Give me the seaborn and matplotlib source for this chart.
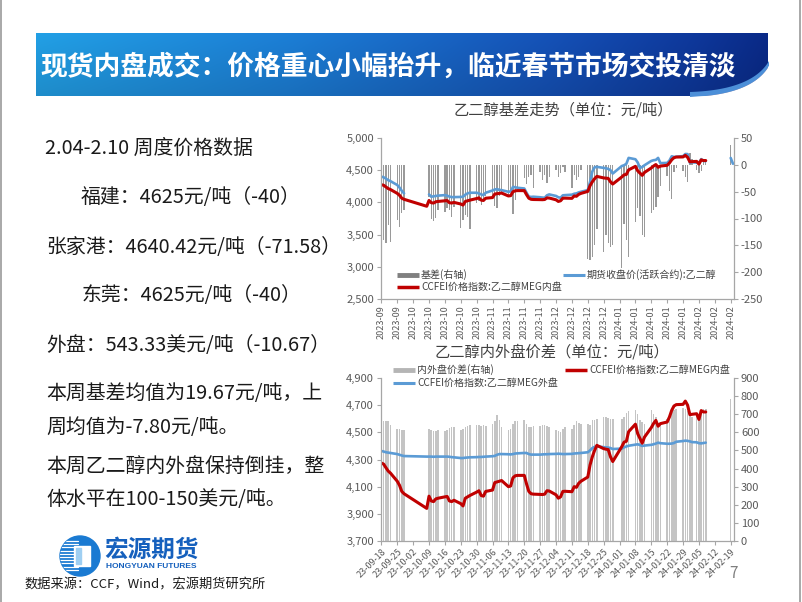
import numpy as np
import pandas as pd
import matplotlib
matplotlib.use('Agg')
import matplotlib.pyplot as plt
from matplotlib.ticker import FuncFormatter
from matplotlib.patches import Rectangle, Circle, Polygon
import seaborn as sns

nan = np.nan
# ---------------- data ----------------
holidays = ['2023-09-29', '2023-10-02', '2023-10-03', '2023-10-04', '2023-10-05',
            '2023-10-06', '2024-01-01']
extra_days = ['2023-10-08', '2024-02-04', '2024-02-19', '2024-02-20']
dates = sorted((set(pd.bdate_range('2023-09-18', '2024-02-08')) - set(pd.to_datetime(holidays)))
               | set(pd.to_datetime(extra_days)))

# CCFEI 价格指数: 乙二醇MEG内盘 (元/吨)
inner_cny = [
    4274, 4266, 4240, 4215, 4200,   # 09-18..22
    4140, 4110, 4065, 4048,         # 09-25..28
    3940,                           # 10-08
    4030, 3995, 3990, 4010, 4015,   # 10-09..13
    4025, 4028, 3995, 3990, 4000,   # 10-16..20
    3975, 3958, 4015, 4025, 4035,   # 10-23..27
    4060, 4070, 4035, 4030, 4065,   # 10-30..11-03
    4075, 4130, 4135, 4140, 4145,   # 11-06..10
    4100, 4105, 4165, 4180, 4183,   # 11-13..17
    4183, 4120, 4065, 4048, 4045,   # 11-20..24
    4043, 4042, 4045, 4070, 4068,   # 11-27..12-01
    4040, 4015, 4025, 4065, 4066,   # 12-04..08
    4063, 4100, 4095, 4125, 4140,   # 12-11..15
    4171, 4260, 4320, 4367, 4404,   # 12-18..22
    4380, 4376, 4373, 4320, 4285,   # 12-25..29
    4395, 4428, 4434, 4505,         # 01-02..05
    4560, 4490, 4455, 4420, 4465,   # 01-08..12
    4535, 4565, 4588, 4545, 4564,   # 01-15..19
    4576, 4613, 4662, 4694, 4704,   # 01-22..26
    4706, 4730, 4700, 4630, 4633,   # 01-29..02-02
    4637,                           # 02-04
    4595, 4660, 4650, 4650,         # 02-05..08
    nan, nan,                       # 02-19, 02-20
]

# 期货收盘价(活跃合约): 乙二醇 (元/吨)
futures = [
    4400, 4390, 4370, 4345, 4330,
    4270, 4230, 4180, 4140,
    nan,
    4124, 4088, 4095, 4100, 4105,
    4113, 4105, 4090, 4082, 4082,
    4085, 4088, 4120, 4140, 4150,
    4150, 4139, 4125, 4113, 4150,
    4185, 4200, 4206, 4195, 4190,
    4165, 4170, 4240, 4235, 4227,
    4216, 4150, 4090, 4085, 4088,
    4080, 4075, 4072, 4110, 4124,
    4100, 4080, 4072, 4110, 4113,
    4120, 4134, 4140, 4155, 4165,
    4191, 4320, 4480, 4545, 4552,
    4536, 4530, 4520, 4500, 4448,
    4565, 4577, 4600, 4691,
    4670, 4620, 4536, 4550, 4577,
    4644, 4655, 4660, 4691, 4610,
    4613, 4650, 4716, 4706, 4710,
    4718, 4752, 4750, 4615, 4625,
    nan,
    4610, 4672, 4644, 4641,
    4690, 4600,
]

# 基差 (右轴, 元/吨)
basis = [
    -121, -140, -146, -112, -143,
    -103, -115, -90, -84,
    nan,
    -60, -100, -104, -99, -85,
    -88, -80, -85, -97, -78,
    -118, -102, -93, -97, -120,
    -72, -68, -75, -64, -58,
    -60, -77, -80, -58, -50,
    -60, -50, -92, -65, -42,
    -25, -35, -22, -19, -44,
    -13, -28, -19, -33, -22,
    -10, -22, -16, -4, -13,
    -44, -19, -28, -22, -10,
    -176, -177, -172, -150, -120,
    -162, -130, -146, -154, -150,
    -192, -110, -140, -172,
    -106, -80, -95, -131, -134,
    -90, -85, -78, -60, -40,
    -20, -48, -63, -13, -5,
    -12, -22, -32, 22, 10,
    -10,
    -16, -12, 6, 9,
    37, nan,
]

# CCFEI 价格指数: 乙二醇MEG外盘 (右轴)
outer_usd = [
    497, 494, 490, 488, 486,
    480, 476, 472, 469,
    466,
    466, 466, 465, 466, 466,
    466, 466, 465, 463, 462,
    458, 458, 460, 461, 462,
    463, 464, 464, 465, 466,
    468, 470, 476, 480, 480,
    479, 478, 480, 483, 484,
    486, 486, 480, 477, 477,
    477, 478, 479, 479, 480,
    481, 482, 481, 480, 480,
    481, 483, 484, 485, 486,
    490, 500, 513, 520, 523,
    518, 517, 516, 513, 508,
    510, 517, 522, 526,
    532, 534, 530, 525, 527,
    531, 534, 538, 543, 540,
    537, 537, 538, 541, 548,
    552, 554, 553, 550, 546,
    545,
    540, 539, 541, 543,
    nan, nan,
]

# 内外盘价差 (右轴)
spread = [
    668, 660, 660, 665, 642,
    620, 617, 615, 615,
    nan,
    617, 611, 607, 605, 611,
    605, 615, 624, 628, 629,
    615, 620, 628, 635, 639,
    642, 639, 635, 639, 635,
    648, 661, 694, 666, 629,
    611, 620, 648, 661, 663,
    666, 648, 629, 629, 633,
    635, 639, 642, 635, 629,
    611, 605, 602, 620, 628,
    620, 639, 661, 653, 648,
    648, 642, 670, 670, 672,
    685, 687, 679, 676, 676,
    676, 685, 709, 716,
    723, 703, 666, 657, 648,
    721, 703, 685, 653, 648,
    676, 685, 712, 721, 731,
    734, 731, 716, 694, 685,
    694,
    703, 721, 731, 731,
    782, nan,
]

week_ticks = pd.date_range('2023-09-18', '2024-02-19', freq='7D')

left_texts = [
    ('2.04-2.10 周度价格数据', 45, 148),
    ('福建：4625元/吨（-40）', 81, 198),
    ('张家港：4640.42元/吨（-71.58）', 46, 247),
    ('东莞：4625元/吨（-40）', 82, 296),
    ('外盘：543.33美元/吨（-10.67）', 46, 345),
    ('本周基差均值为19.67元/吨，上', 46, 393),
    ('周均值为-7.80元/吨。', 46, 427),
    ('本周乙二醇内外盘保持倒挂，整', 46, 467),
    ('体水平在100-150美元/吨。', 46, 500),
]

# ---------------- frame ----------------
df = pd.DataFrame({'date': pd.to_datetime(dates), 'inner': inner_cny, 'fut': futures,
                   'basis': basis, 'outer': outer_usd, 'spread': spread})

sns.set_theme(style='white')
plt.rcParams['font.family'] = ['Noto Sans CJK SC', 'DejaVu Sans']
plt.rcParams['axes.unicode_minus'] = False

W, H = 802, 602
fig = plt.figure(figsize=(W / 100, H / 100), dpi=100)
fig.patch.set_facecolor('white')


def rect(l, t, r, b):
    return [l / W, 1 - b / H, (r - l) / W, (b - t) / H]


def seg_frame(col, max_gap_days=None):
    d = df[['date', col]].dropna().rename(columns={col: 'v'}).reset_index(drop=True)
    if max_gap_days is None:
        d['seg'] = 0
    else:
        d['seg'] = (d['date'].diff() > pd.Timedelta(days=max_gap_days)).cumsum()
    return d


GRAY_AX = '#A6A6A6'
TICK_C = '#595959'
RED = '#C00000'
BLUE = '#5B9BD5'
XLIM = (pd.Timestamp('2023-09-17 20:00'), pd.Timestamp('2024-02-20 11:00'))


def style_axes(ax, axr):
    for a in (ax, axr):
        a.spines['top'].set_visible(False)
        for s in ('left', 'right', 'bottom'):
            a.spines[s].set_color(GRAY_AX)
            a.spines[s].set_linewidth(0.9)
        a.grid(False)
    ax.spines['right'].set_visible(False)
    axr.spines['left'].set_visible(False)
    axr.spines['bottom'].set_visible(False)
    ax.tick_params(axis='y', direction='out', length=3, width=0.8, color=GRAY_AX,
                   labelsize=8, labelcolor=TICK_C, pad=2, left=True)
    axr.tick_params(axis='y', direction='out', length=3, width=0.8, color=GRAY_AX,
                    labelsize=8, labelcolor=TICK_C, pad=2, right=True)
    ax.tick_params(axis='x', direction='out', length=3, width=0.8, color=GRAY_AX,
                   labelsize=6.5, labelcolor=TICK_C, pad=1.5, bottom=True)
    ax.set_xlabel('')
    ax.set_ylabel('')
    axr.set_ylabel('')
    ax.set_xlim(*XLIM)
    ax.set_xticks(week_ticks)


# ---------------- top chart ----------------
ax1 = fig.add_axes(rect(381, 138, 734, 299))
ax1r = ax1.twinx()
ax1.set_zorder(ax1r.get_zorder() + 1)
ax1.patch.set_visible(False)
ax1r.bar(df['date'], df['basis'], width=0.6, color='#9A9A9A', linewidth=0)
sns.lineplot(data=seg_frame('fut', 7), x='date', y='v', units='seg', estimator=None,
             color=BLUE, lw=1.9, ax=ax1, legend=False)
sns.lineplot(data=seg_frame('inner'), x='date', y='v', units='seg', estimator=None,
             color=RED, lw=2.2, ax=ax1, legend=False)
ax1.set_ylim(2500, 5000)
ax1.set_yticks(np.arange(2500, 5001, 500))
ax1r.set_ylim(-250, 50)
ax1r.set_yticks(np.arange(-250, 51, 50))
ax1.yaxis.set_major_formatter(FuncFormatter(lambda v, p: f'{v:,.0f}'))
ax1r.yaxis.set_major_formatter(FuncFormatter(lambda v, p: f'{v:.0f}'))
style_axes(ax1, ax1r)
ax1.set_xticklabels([d.strftime('%Y-%m') for d in week_ticks], rotation=90)

# ---------------- bottom chart ----------------
ax2 = fig.add_axes(rect(381, 378, 734, 541))
ax2r = ax2.twinx()
ax2.set_zorder(ax2r.get_zorder() + 1)
ax2.patch.set_visible(False)
ax2r.bar(df['date'], df['spread'], width=0.7, color='#C4C4C4', linewidth=0)
sns.lineplot(data=seg_frame('outer'), x='date', y='v', units='seg', estimator=None,
             color=BLUE, lw=1.9, ax=ax2r, legend=False)
sns.lineplot(data=seg_frame('inner'), x='date', y='v', units='seg', estimator=None,
             color=RED, lw=2.2, ax=ax2, legend=False)
ax2.set_ylim(3700, 4900)
ax2.set_yticks(np.arange(3700, 4901, 200))
ax2r.set_ylim(0, 900)
ax2r.set_yticks(np.arange(0, 901, 100))
ax2.yaxis.set_major_formatter(FuncFormatter(lambda v, p: f'{v:,.0f}'))
ax2r.yaxis.set_major_formatter(FuncFormatter(lambda v, p: f'{v:.0f}'))
style_axes(ax2, ax2r)
ax2.set_xticklabels([d.strftime('%y-%m-%d') for d in week_ticks], rotation=45,
                    ha='right', rotation_mode='anchor')
ax2r.set_ylabel('')

# ---------------- overlay (slide decorations, text, legends) ----------------
ov = fig.add_axes([0, 0, 1, 1], zorder=20)
ov.set_xlim(0, W)
ov.set_ylim(H, 0)
ov.axis('off')
ov.patch.set_visible(False)

# page frame
ov.plot([1, 1], [0, H], color='#9A9A9A', lw=1.2)
ov.plot([800, 800], [0, H], color='#9A9A9A', lw=1.2)

# title banner gradient
bx0, bx1, by0, by1 = 36, 768, 33, 96
nx, ny = 400, 60
tx = np.linspace(0, 1, nx)
ty = np.linspace(0, 1, ny)
stops_t = [0.0, 0.35, 0.7, 0.9, 1.0]
stops_c = np.array([[0x22, 0xA0, 0xE6], [0x1C, 0x7E, 0xD6], [0x15, 0x52, 0xB8],
                    [0x0E, 0x38, 0x9C], [0x0A, 0x2A, 0x88]]) / 255.0
base = np.stack([np.interp(tx, stops_t, stops_c[:, k]) for k in range(3)], axis=-1)
img = np.repeat(base[None, :, :], ny, axis=0)
shade = (1.0 - 0.12 * ty)[:, None, None]
img = np.clip(img * shade, 0, 1)
ov.imshow(img, extent=[bx0, bx1, by1, by0], aspect='auto', zorder=1, interpolation='bilinear')
# white swoosh on the lower right corner
tt = np.linspace(0, 1, 40)
p0, p1, p2 = np.array([690, 97]), np.array([752, 95]), np.array([769, 66])
curve = ((1 - tt) ** 2)[:, None] * p0 + (2 * (1 - tt) * tt)[:, None] * p1 + (tt ** 2)[:, None] * p2
band = curve + np.array([0, -5])
ov.add_patch(Polygon(np.vstack([band, curve[::-1]]), closed=True, color='#4C8FD8', zorder=2, lw=0))
ov.add_patch(Polygon(np.vstack([curve, [[769, 98], [690, 98]]]), closed=True, color='white', zorder=3, lw=0))
ov.text(40, 67, '现货内盘成交：价格重心小幅抬升，临近春节市场交投清淡', color='white',
        fontsize=19.3, fontweight='bold', va='center', ha='left', zorder=5)

# left text block
for s, x, y in left_texts:
    ov.text(x, y, s, fontsize=14.3, color='#1A1A1A', va='center', ha='left')

# chart titles
ov.text(563, 110, '乙二醇基差走势（单位：元/吨）', fontsize=11, color='#404040', ha='center', va='center')
ov.text(552, 352, '乙二醇内外盘价差（单位：元/吨）', fontsize=11, color='#404040', ha='center', va='center')

# legends
LEG_FS = 7.2


def leg(x, y, color, lw, label):
    ov.plot([x, x + 22], [y, y], color=color, lw=lw, solid_capstyle='butt')
    ov.text(x + 24, y, label, fontsize=LEG_FS, color='#404040', va='center', ha='left')


leg(397, 275, '#808080', 3.5, '基差(右轴)')
leg(397, 287, RED, 2.5, 'CCFEI价格指数:乙二醇MEG内盘')
leg(563, 275, BLUE, 2.2, '期货收盘价(活跃合约):乙二醇')
leg(393, 370, '#B5B5B5', 3.5, '内外盘价差(右轴)')
leg(565, 370, RED, 2.5, 'CCFEI价格指数:乙二醇MEG内盘')
leg(393, 383, BLUE, 2.2, 'CCFEI价格指数:乙二醇MEG外盘')

# logo
circ = Circle((80, 556), 20, color='#1A7AD2', zorder=4)
ov.add_patch(circ)
for yy in np.arange(541, 572, 3.2):
    ln, = ov.plot([58, 78], [yy, yy], color='white', lw=0.9, zorder=5)
    ln.set_clip_path(circ)
ov.add_patch(Rectangle((74, 546), 16, 20, color='white', zorder=6))
ov.add_patch(Rectangle((76, 548), 5, 16, color='#9FCFF2', zorder=7))
ov.text(104, 550, '宏源期货', fontsize=17, fontweight='bold', color='#1560BD', va='center', ha='left')
ov.text(106, 566, 'HONGYUAN FUTURES', fontsize=6, fontweight='bold', color='#1560BD',
        va='center', ha='left', family=['Liberation Sans', 'DejaVu Sans'])
ov.text(24, 585, '数据来源：CCF，Wind，宏源期货研究所', fontsize=9.5, color='#1A1A1A', va='center', ha='left')
ov.text(734, 573, '7', fontsize=11, color='#7F7F7F', va='center', ha='center')

fig.savefig('out.png', dpi=100, facecolor='white')
